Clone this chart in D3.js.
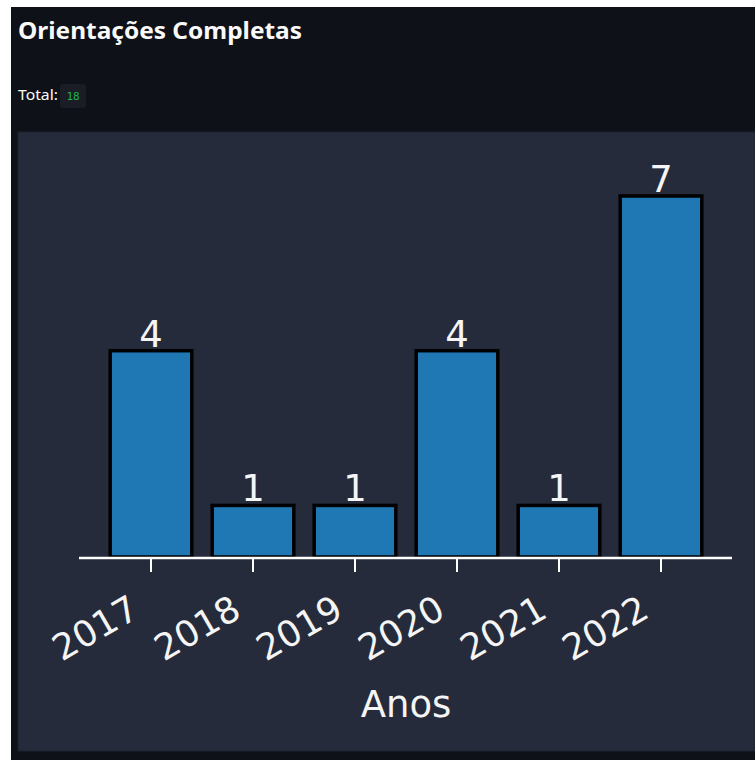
<!DOCTYPE html>
<html>
<head>
<meta charset="utf-8">
<script src="https://cdn.jsdelivr.net/npm/d3@7"></script>
<style>
  html, body { margin: 0; padding: 0; background: #fff; }
  svg { display: block; }
</style>
</head>
<body>
<div id="chart"></div>
<script>
// Data
const years = ["2017", "2018", "2019", "2020", "2021", "2022"];
const counts = [4, 1, 1, 4, 1, 7];
const totalLabel = "18";

const W = 755, H = 760;

const svg = d3.select("#chart").append("svg")
    .attr("width", W)
    .attr("height", H);

// app background
svg.append("rect").attr("x", 11).attr("y", 7).attr("width", W - 11).attr("height", H - 7)
    .attr("fill", "#0e1117");

// header texts
svg.append("text")
    .attr("x", 18).attr("y", 39)
    .attr("fill", "#fafafa")
    .style("font", "bold 23px 'Noto Sans', sans-serif")
    .attr("textLength", 284).attr("lengthAdjust", "spacingAndGlyphs")
    .text("Orientações Completas");

svg.append("text")
    .attr("x", 18).attr("y", 100)
    .attr("fill", "#fafafa")
    .style("font", "14px 'Noto Sans', sans-serif")
    .attr("textLength", 40).attr("lengthAdjust", "spacingAndGlyphs")
    .text("Total:");

svg.append("rect").attr("x", 60).attr("y", 84).attr("width", 26).attr("height", 24).attr("rx", 3)
    .attr("fill", "#1a1d26");
svg.append("text")
    .attr("x", 73).attr("y", 100)
    .attr("text-anchor", "middle")
    .attr("fill", "#21b24b")
    .style("font", "11px 'DejaVu Sans Mono', monospace")
    .text(totalLabel);

// chart panel (matplotlib figure image)
svg.append("rect").attr("x", 18).attr("y", 132).attr("width", W - 18).attr("height", 619)
    .attr("fill", "#262b3b")
    .attr("stroke", "#1d2230").attr("stroke-width", 1);

// scales
const x = d3.scaleBand()
    .domain(years)
    .range([100, 712])   // band centres 102px apart
    .paddingInner(0.2)
    .paddingOuter(0.1);

const baseline = 557;
const y = d3.scaleLinear().domain([0, 7]).range([baseline, 196]);

const g = svg.append("g");

// bars
g.selectAll(".bar")
    .data(counts)
    .join("rect")
    .attr("class", "bar")
    .attr("x", (d, i) => x(years[i]))
    .attr("y", d => y(d))
    .attr("width", x.bandwidth())
    .attr("height", d => baseline - y(d))
    .attr("fill", "#1f77b4")
    .attr("stroke", "#000")
    .attr("stroke-width", 3.5);

// bar value labels
g.selectAll(".val")
    .data(counts)
    .join("text")
    .attr("class", "val")
    .attr("x", (d, i) => x(years[i]) + x.bandwidth() / 2)
    .attr("y", d => y(d) - 4)
    .attr("text-anchor", "middle")
    .attr("fill", "#f5f5f5")
    .style("font", "37px 'DejaVu Sans', sans-serif")
    .text(d => d);

// x axis
const axis = g.append("g")
    .attr("transform", `translate(0,${baseline + 1})`)
    .call(d3.axisBottom(x).tickSize(14).tickSizeOuter(0).tickPadding(6));

axis.select(".domain")
    .attr("d", "M79,0H732")
    .attr("stroke", "#fff")
    .attr("stroke-width", 2.5);
axis.selectAll(".tick line")
    .attr("stroke", "#fff")
    .attr("stroke-width", 2);
axis.selectAll(".tick text")
    .attr("fill", "#f5f5f5")
    .style("font", "36px 'DejaVu Sans', sans-serif")
    .attr("text-anchor", "end")
    .attr("dy", null)
    .attr("y", 0)
    .attr("transform", "translate(-10,58) rotate(-30)");

// axis title
g.append("text")
    .attr("x", 406).attr("y", 717)
    .attr("text-anchor", "middle")
    .attr("fill", "#f5f5f5")
    .style("font", "37px 'DejaVu Sans', sans-serif")
    .text("Anos");
</script>
</body>
</html>
